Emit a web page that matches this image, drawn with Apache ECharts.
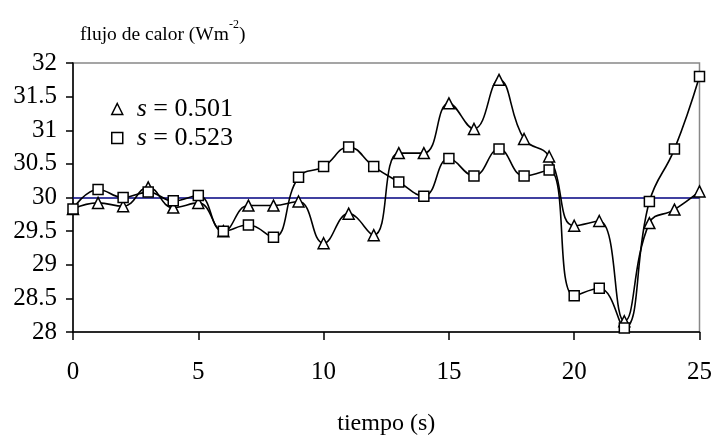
<!DOCTYPE html>
<html>
<head>
<meta charset="utf-8">
<script src="https://cdn.jsdelivr.net/npm/echarts@6/dist/echarts.min.js"></script>
<style>html,body{margin:0;padding:0;background:#fff}#c{width:715px;height:441px}</style>
</head>
<body>
<div id="c"></div>
<script>
const time = [0,1,2,3,4,5,6,7,8,9,10,11,12,13,14,15,16,17,18,19,20,21,22,23,24,25];
const s501 = [29.83,29.92,29.87,30.15,29.85,29.92,29.50,29.88,29.88,29.94,29.32,29.76,29.44,30.66,30.66,31.40,31.02,31.75,30.87,30.61,29.58,29.65,28.16,29.62,29.82,30.09];
const s523 = [29.83,30.12,30.00,30.08,29.95,30.03,29.50,29.59,29.41,30.30,30.46,30.75,30.46,30.23,30.02,30.58,30.32,30.72,30.32,30.41,28.54,28.65,28.06,29.94,30.72,31.80];
const refLevel = 30;
const names = ['s = 0.501', 's = 0.523'];
const yTicks = {min: 28, max: 32, step: 0.5};
const xTicks = {min: 0, max: 25, step: 5};

const pairs = v => time.map((t, i) => [t, v[i]]);
const serif = '"Liberation Serif", "Times New Roman", serif';
const mk = {color: '#fff', borderColor: '#000', borderWidth: 1.5};

const chart = echarts.init(document.getElementById('c'), null, {renderer: 'canvas'});
chart.setOption({
  animation: false,
  backgroundColor: '#fff',
  textStyle: {fontFamily: serif, color: '#000'},
  title: {
    left: 75, top: 14,
    text: '{a|flujo de calor (Wm}{b|-2}{a|)}',
    textStyle: {
      rich: {
        a: {fontFamily: serif, fontSize: 19.5, color: '#000', fontWeight: 'normal', verticalAlign: 'bottom', lineHeight: 26},
        b: {fontFamily: serif, fontSize: 12, color: '#000', fontWeight: 'normal', verticalAlign: 'top', lineHeight: 26}
      }
    }
  },
  grid: {left: 73, right: 15, top: 63, bottom: 104, show: true, borderColor: '#888', borderWidth: 1.5, backgroundColor: 'transparent'},
  legend: {
    orient: 'vertical', left: 106, top: 91, itemGap: 3,
    itemWidth: 11, itemHeight: 11,
    data: [
      {name: names[0], icon: 'triangle', itemStyle: mk},
      {name: names[1], icon: 'rect', itemStyle: mk}
    ],
    formatter: n => '{i|s}{t|' + n.slice(1) + '}',
    textStyle: {
      rich: {
        i: {fontFamily: serif, fontSize: 26, fontStyle: 'italic', color: '#000', padding: [0, 0, 0, 9]},
        t: {fontFamily: serif, fontSize: 26, color: '#000'}
      }
    }
  },
  xAxis: {
    type: 'value', min: xTicks.min, max: xTicks.max, interval: xTicks.step,
    name: 'tiempo (s)', nameLocation: 'middle', nameGap: 80,
    nameTextStyle: {fontFamily: serif, fontSize: 24, color: '#000'},
    axisLine: {lineStyle: {color: '#000', width: 1.5}},
    axisTick: {show: true, inside: false, length: 8, lineStyle: {color: '#000', width: 1.5}},
    axisLabel: {fontFamily: serif, fontSize: 25, color: '#000', margin: 28},
    splitLine: {show: false}
  },
  yAxis: {
    type: 'value', min: yTicks.min, max: yTicks.max, interval: yTicks.step,
    axisLine: {show: true, lineStyle: {color: '#000', width: 1.5}},
    axisTick: {show: true, inside: false, length: 7, lineStyle: {color: '#000', width: 1.5}},
    axisLabel: {fontFamily: serif, fontSize: 25, color: '#000', margin: 16},
    splitLine: {show: false}
  },
  series: [
    {
      name: names[0], type: 'line', smooth: 0.45, data: pairs(s501),
      symbol: 'triangle', symbolSize: 11, showAllSymbol: true,
      lineStyle: {color: '#000', width: 1.6}, itemStyle: mk, z: 3,
      markLine: {
        silent: true, symbol: 'none', label: {show: false},
        lineStyle: {color: '#000080', width: 1.6, type: 'solid'},
        data: [{yAxis: refLevel}], z: 1
      }
    },
    {
      name: names[1], type: 'line', smooth: 0.45, data: pairs(s523),
      symbol: 'rect', symbolSize: 10, showAllSymbol: true,
      lineStyle: {color: '#000', width: 1.6}, itemStyle: mk, z: 3
    }
  ]
});
</script>
</body>
</html>
